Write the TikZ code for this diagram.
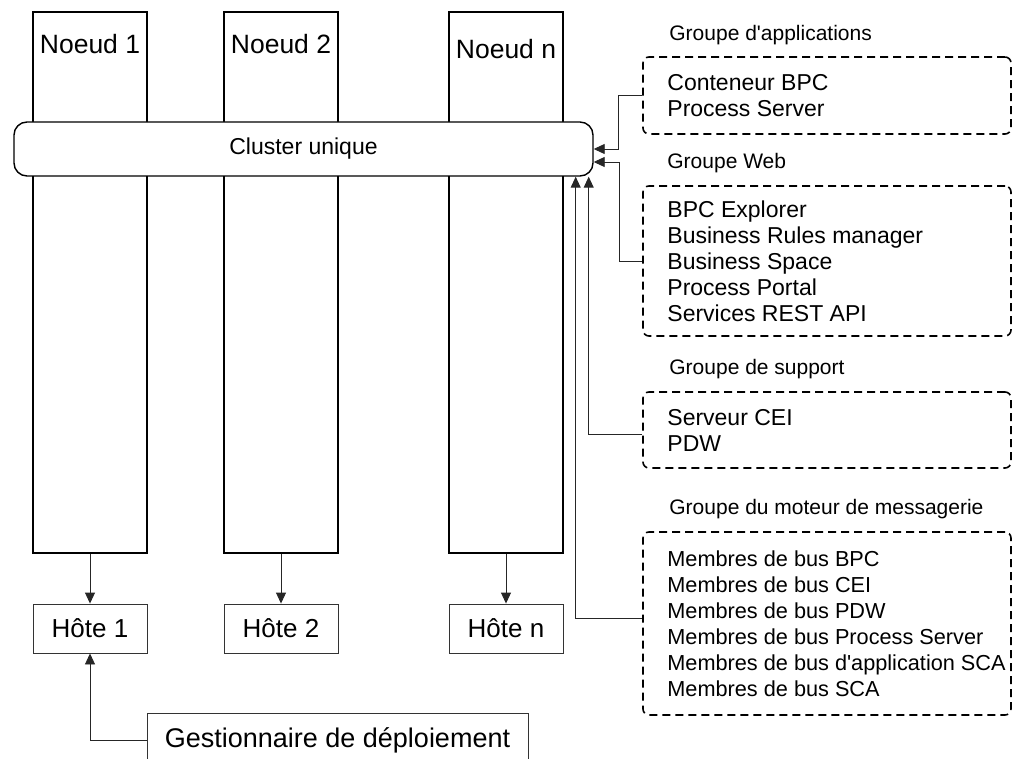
\documentclass[tikz,border=0pt]{standalone}
\usepackage{fontspec}
\setmainfont{Liberation Sans}
\usetikzlibrary{arrows.meta,positioning}

\begin{document}
\begin{tikzpicture}[x=1pt, y=-1pt,
    noeud/.style = {draw, line width=1.4pt, minimum width=114pt, minimum height=541pt, inner sep=0pt},
    hote/.style = {draw, black!80, text=black, line width=0.9pt, minimum width=114pt, minimum height=49pt, inner sep=0pt, font=\fontsize{26}{30}\selectfont},
    grp/.style = {draw, dash pattern=on 8pt off 5pt, line width=1.6pt, rounded corners=6pt, minimum width=368pt, inner sep=0pt},
    items/.style = {align=left, anchor=west, inner sep=0pt, font=\fontsize{23}{26}\selectfont},
    titre/.style = {anchor=west, inner sep=0pt, font=\fontsize{21}{24}\selectfont},
    arr/.style = {-{Triangle[length=11pt,width=10pt]}, line width=0.9pt, black!85}]
    \clip (0,0) rectangle (1016,759);
    % noeuds
    \node[noeud] (n1) at (90,282.5) {};
    \node[noeud] (n2) at (281,282.5) {};
    \node[noeud] (nn) at (506,282.5) {};
    \node[font=\fontsize{26.5}{30}\selectfont] (ln1) at ([yshift=-33pt]n1.north) {Noeud 1};
    \node[font=\fontsize{26.5}{30}\selectfont] (ln2) at ([yshift=-33pt]n2.north) {Noeud 2};
    \node[font=\fontsize{26.5}{30}\selectfont] (lnn) at ([yshift=-38pt]nn.north) {Noeud n};
    \node[draw, fill=white, line width=1.4pt, rounded corners=13pt, minimum width=579pt, minimum height=54pt,
        font=\fontsize{23}{26}\selectfont] (cluster) at (303.5,149) {Cluster unique};
    % hotes
    \node[hote] (h1) at (90,628.5) {Hôte 1};
    \node[hote] (h2) at (281,628.5) {Hôte 2};
    \node[hote] (hn) at (506,628.5) {Hôte n};
    \node[hote, minimum width=381pt, minimum height=54pt, font=\fontsize{27}{30}\selectfont] (gest) at (337.5,740) {Gestionnaire de déploiement};
    \draw[arr] (n1) -- (h1);
    \draw[arr] (n2) -- (h2);
    \draw[arr] (nn) -- (hn);
    \draw[arr] (gest.west) -| (h1.south);
    % groupes
    \node[grp, minimum height=77pt] (apps) at (827,95.5) {};
    \node[grp, minimum height=150pt] (web) at (827,261) {};
    \node[grp, minimum height=76pt] (sup) at (827,430) {};
    \node[grp, minimum height=183pt] (msg) at (827,623.5) {};
    \node[titre] (tapps) at ([xshift=27pt,yshift=21pt]apps.north west) {Groupe d\textquotesingle applications};
    \node[titre] (tweb) at ([xshift=25pt,yshift=22pt]web.north west) {Groupe Web};
    \node[titre] (tsup) at ([xshift=27pt,yshift=22pt]sup.north west) {Groupe de support};
    \node[titre] (tmsg) at ([xshift=27pt,yshift=22pt]msg.north west) {Groupe du moteur de messagerie};
    \node[items] (iapps) at ([xshift=25pt]apps.west) {Conteneur BPC\\Process Server};
    \node[items] (iweb) at ([xshift=25pt]web.west) {BPC Explorer\\Business Rules manager\\Business Space\\Process Portal\\Services REST API};
    \node[items] (isup) at ([xshift=25pt]sup.west) {Serveur CEI\\PDW};
    \node[items, font=\fontsize{21.7}{26}\selectfont] (imsg) at ([xshift=25pt]msg.west) {Membres de bus BPC\\Membres de bus CEI\\Membres de bus PDW\\Membres de bus Process Server\\Membres de bus d\textquotesingle application SCA\\Membres de bus SCA};
    % liaisons vers le cluster
    \draw[arr] (apps.west) -| ([xshift=25pt]cluster.east) -- (cluster.east);
    \draw[arr] (web.west) -| ([xshift=26pt,yshift=-13pt]cluster.east) -- ([yshift=-13pt]cluster.east);
    \draw[arr] ([yshift=-4pt]sup.west) -| ([xshift=-5pt]cluster.south east);
    \draw[arr] ([yshift=5.5pt]msg.west) -| ([xshift=-18pt]cluster.south east);
\end{tikzpicture}
\end{document}
